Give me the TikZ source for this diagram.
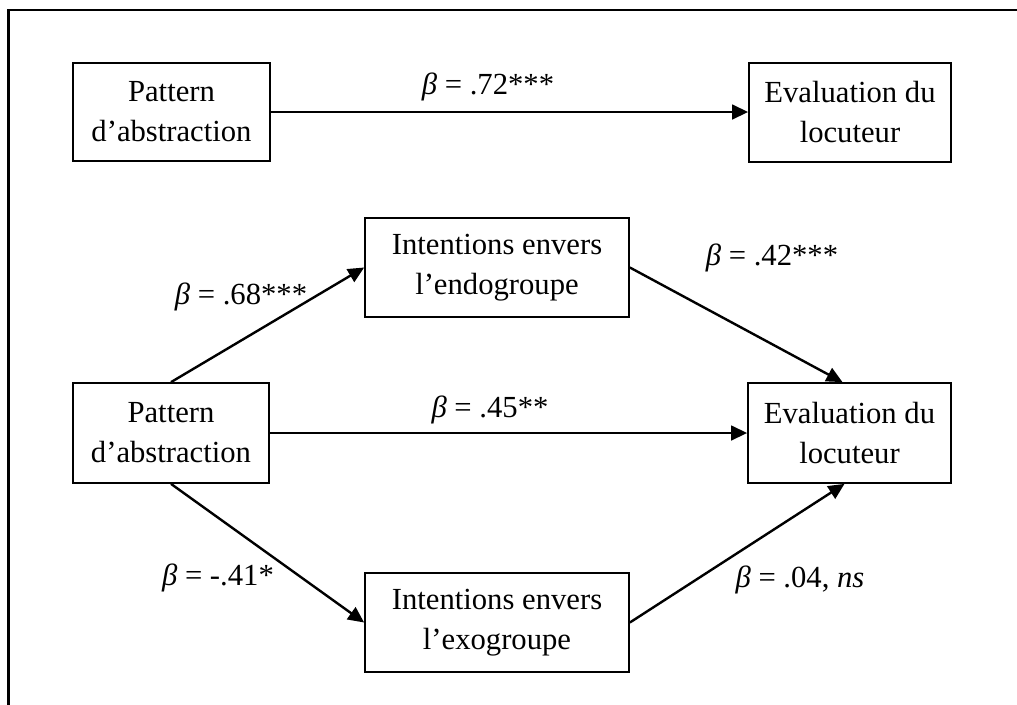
\documentclass[tikz,border=0pt]{standalone}
\usepackage{fontspec}
\setmainfont{Liberation Serif}
\usetikzlibrary{arrows.meta,calc}
\tikzset{
  box/.style={draw, line width=1.3pt, inner sep=0pt, align=center, font=\fontsize{23pt}{30pt}\selectfont},
  lbl/.style={inner sep=0pt, font=\fontsize{23pt}{30pt}\selectfont},
  arr/.style={line width=1.8pt, -{Triangle[length=12pt,width=11pt]}}
}
\begin{document}
\begin{tikzpicture}[x=0.75pt,y=-0.75pt]
\useasboundingbox (0,0) rectangle (1017,704);
\begin{scope}
\clip (0,0) rectangle (1017,704);
\draw[line width=1.9pt] (8.5,10) rectangle (1040,730);
\end{scope}
% boxes
\node[box, minimum width=147.75pt, minimum height=73.5pt] (pa1) at (171.5,112) {Pattern\\d’abstraction};
\node[box, minimum width=151.5pt, minimum height=74.25pt] (ev1) at (850,112.5) {Evaluation du\\locuteur};
\node[box, minimum width=147pt, minimum height=75pt] (pa2) at (171,433) {Pattern\\d’abstraction};
\node[box, minimum width=152.25pt, minimum height=75pt] (ev2) at (849.5,433) {Evaluation du\\locuteur};
\node[box, minimum width=198pt, minimum height=74.25pt] (endo) at (497,267.5) {Intentions envers\\l’endogroupe};
\node[box, minimum width=198pt, minimum height=74.25pt] (exo) at (497,622.5) {Intentions envers\\l’exogroupe};
% connectors
\draw[arr] (pa1.east) -- (pa1.east -| ev1.west);
\draw[arr] (pa2.east) -- (ev2.west);
\draw[arr] (pa2.north) -- (endo.west);
\draw[arr] (endo.east) -- ($(ev2.north)+(-7,0)$);
\draw[arr] (pa2.south) -- (exo.west);
\draw[arr] (exo.east) -- ($(ev2.south)+(-5,0)$);
% labels
\node[lbl] (l72) at (488,87) {\textit{β} = .72***};
\node[lbl] (l68) at (241,297) {\textit{β} = .68***};
\node[lbl] (l45) at (490,410) {\textit{β} = .45**};
\node[lbl] (l42) at (772,258) {\textit{β} = .42***};
\node[lbl] (l41) at (218,578) {\textit{β} = -.41*};
\node[lbl] (l04) at (800,580) {\textit{β} = .04, \textit{ns}};
\end{tikzpicture}
\end{document}
